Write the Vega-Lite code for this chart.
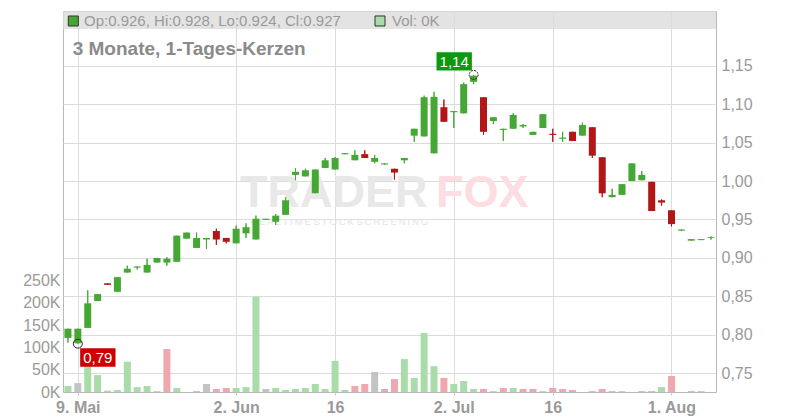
{
  "$schema": "https://vega.github.io/schema/vega-lite/v6.json",
  "width": 653,
  "height": 381,
  "autosize": {"type": "none"},
  "padding": {"left": 63, "right": 84, "top": 11, "bottom": 28},
  "background": "white",
  "config": {
    "view": {"stroke": "#b8b8b8"},
    "font": "Liberation Sans",
    "axis": {"labelFont": "Liberation Sans", "labelColor": "#9a9a9a", "labelFontSize": 16, "domain": false, "gridColor": "#dcdcdc", "tickColor": "#c8c8c8"}
  },
  "data": {"values": [
    {"i":0,"d":"2025-05-08","o":0.796,"h":0.808,"l":0.79,"c":0.808,"v":13500,"vd":"up"},
    {"i":1,"d":"2025-05-09","o":0.789,"h":0.808,"l":0.7885,"c":0.808,"v":20000,"vd":"flat"},
    {"i":2,"d":"2025-05-12","o":0.809,"h":0.858,"l":0.809,"c":0.841,"v":75000,"vd":"up"},
    {"i":3,"d":"2025-05-13","o":0.844,"h":0.853,"l":0.844,"c":0.853,"v":38000,"vd":"up"},
    {"i":4,"d":"2025-05-14","o":0.867,"h":0.867,"l":0.865,"c":0.865,"v":3000,"vd":"up"},
    {"i":5,"d":"2025-05-15","o":0.856,"h":0.875,"l":0.856,"c":0.875,"v":4500,"vd":"up"},
    {"i":6,"d":"2025-05-16","o":0.881,"h":0.89,"l":0.881,"c":0.886,"v":68000,"vd":"up"},
    {"i":7,"d":"2025-05-19","o":0.8875,"h":0.889,"l":0.885,"c":0.889,"v":11000,"vd":"up"},
    {"i":8,"d":"2025-05-20","o":0.881,"h":0.899,"l":0.881,"c":0.891,"v":13500,"vd":"up"},
    {"i":9,"d":"2025-05-21","o":0.894,"h":0.9,"l":0.894,"c":0.9,"v":2000,"vd":"up"},
    {"i":10,"d":"2025-05-22","o":0.894,"h":0.901,"l":0.89,"c":0.899,"v":96600,"vd":"down"},
    {"i":11,"d":"2025-05-23","o":0.895,"h":0.929,"l":0.895,"c":0.929,"v":9000,"vd":"up"},
    {"i":12,"d":"2025-05-26","o":0.925,"h":0.933,"l":0.925,"c":0.933,"v":0,"vd":"up"},
    {"i":13,"d":"2025-05-27","o":0.913,"h":0.933,"l":0.913,"c":0.926,"v":2000,"vd":"down"},
    {"i":14,"d":"2025-05-28","o":0.924,"h":0.926,"l":0.912,"c":0.926,"v":18000,"vd":"flat"},
    {"i":15,"d":"2025-05-29","o":0.935,"h":0.938,"l":0.917,"c":0.924,"v":6700,"vd":"down"},
    {"i":16,"d":"2025-05-30","o":0.926,"h":0.926,"l":0.919,"c":0.921,"v":9000,"vd":"down"},
    {"i":17,"d":"2025-06-02","o":0.919,"h":0.942,"l":0.919,"c":0.938,"v":9000,"vd":"up"},
    {"i":18,"d":"2025-06-03","o":0.932,"h":0.945,"l":0.926,"c":0.94,"v":11000,"vd":"up"},
    {"i":19,"d":"2025-06-04","o":0.924,"h":0.955,"l":0.924,"c":0.951,"v":214000,"vd":"up"},
    {"i":20,"d":"2025-06-05","o":0.9495,"h":0.951,"l":0.9495,"c":0.951,"v":6700,"vd":"flat"},
    {"i":21,"d":"2025-06-06","o":0.947,"h":0.957,"l":0.943,"c":0.955,"v":9000,"vd":"up"},
    {"i":22,"d":"2025-06-09","o":0.956,"h":0.979,"l":0.956,"c":0.975,"v":4500,"vd":"up"},
    {"i":23,"d":"2025-06-10","o":1.008,"h":1.017,"l":1.001,"c":1.012,"v":6700,"vd":"up"},
    {"i":24,"d":"2025-06-11","o":1.006,"h":1.016,"l":1.006,"c":1.014,"v":9000,"vd":"up"},
    {"i":25,"d":"2025-06-12","o":0.984,"h":1.015,"l":0.984,"c":1.015,"v":18000,"vd":"up"},
    {"i":26,"d":"2025-06-13","o":1.017,"h":1.03,"l":1.017,"c":1.027,"v":6700,"vd":"up"},
    {"i":27,"d":"2025-06-16","o":1.015,"h":1.031,"l":1.015,"c":1.03,"v":70000,"vd":"up"},
    {"i":28,"d":"2025-06-17","o":1.0348,"h":1.0363,"l":1.0348,"c":1.0363,"v":4500,"vd":"up"},
    {"i":29,"d":"2025-06-18","o":1.027,"h":1.04,"l":1.027,"c":1.034,"v":13500,"vd":"down"},
    {"i":30,"d":"2025-06-19","o":1.035,"h":1.04,"l":1.03,"c":1.03,"v":18000,"vd":"down"},
    {"i":31,"d":"2025-06-20","o":1.025,"h":1.034,"l":1.023,"c":1.03,"v":45000,"vd":"flat"},
    {"i":32,"d":"2025-06-23","o":1.0215,"h":1.023,"l":1.0215,"c":1.023,"v":6700,"vd":"down"},
    {"i":33,"d":"2025-06-24","o":1.016,"h":1.016,"l":1.002,"c":1.011,"v":29000,"vd":"down"},
    {"i":34,"d":"2025-06-25","o":1.027,"h":1.03,"l":1.023,"c":1.03,"v":74000,"vd":"up"},
    {"i":35,"d":"2025-06-26","o":1.059,"h":1.068,"l":1.051,"c":1.068,"v":31500,"vd":"up"},
    {"i":36,"d":"2025-06-27","o":1.058,"h":1.111,"l":1.058,"c":1.109,"v":132500,"vd":"up"},
    {"i":37,"d":"2025-06-30","o":1.036,"h":1.116,"l":1.036,"c":1.1095,"v":58000,"vd":"up"},
    {"i":38,"d":"2025-07-01","o":1.096,"h":1.106,"l":1.077,"c":1.077,"v":31500,"vd":"down"},
    {"i":39,"d":"2025-07-02","o":1.0895,"h":1.091,"l":1.069,"c":1.091,"v":18000,"vd":"up"},
    {"i":40,"d":"2025-07-03","o":1.088,"h":1.128,"l":1.088,"c":1.126,"v":24700,"vd":"up"},
    {"i":41,"d":"2025-07-04","o":1.129,"h":1.138,"l":1.126,"c":1.137,"v":6700,"vd":"up"},
    {"i":42,"d":"2025-07-07","o":1.109,"h":1.109,"l":1.06,"c":1.064,"v":6700,"vd":"down"},
    {"i":43,"d":"2025-07-08","o":1.078,"h":1.083,"l":1.074,"c":1.083,"v":2000,"vd":"up"},
    {"i":44,"d":"2025-07-09","o":1.0665,"h":1.068,"l":1.052,"c":1.068,"v":9000,"vd":"down"},
    {"i":45,"d":"2025-07-10","o":1.068,"h":1.088,"l":1.068,"c":1.086,"v":9000,"vd":"up"},
    {"i":46,"d":"2025-07-11","o":1.071,"h":1.074,"l":1.069,"c":1.073,"v":6700,"vd":"down"},
    {"i":47,"d":"2025-07-14","o":1.06,"h":1.064,"l":1.06,"c":1.064,"v":6700,"vd":"down"},
    {"i":48,"d":"2025-07-15","o":1.069,"h":1.087,"l":1.069,"c":1.087,"v":2000,"vd":"up"},
    {"i":49,"d":"2025-07-16","o":1.0615,"h":1.068,"l":1.051,"c":1.06,"v":9000,"vd":"down"},
    {"i":50,"d":"2025-07-17","o":1.055,"h":1.064,"l":1.051,"c":1.0565,"v":6700,"vd":"down"},
    {"i":51,"d":"2025-07-18","o":1.064,"h":1.064,"l":1.052,"c":1.052,"v":4500,"vd":"down"},
    {"i":52,"d":"2025-07-21","o":1.059,"h":1.076,"l":1.059,"c":1.073,"v":0,"vd":"up"},
    {"i":53,"d":"2025-07-22","o":1.07,"h":1.07,"l":1.03,"c":1.033,"v":2000,"vd":"down"},
    {"i":54,"d":"2025-07-23","o":1.031,"h":1.031,"l":0.979,"c":0.984,"v":6700,"vd":"down"},
    {"i":55,"d":"2025-07-24","o":0.979,"h":0.99,"l":0.979,"c":0.982,"v":2000,"vd":"down"},
    {"i":56,"d":"2025-07-25","o":0.982,"h":0.996,"l":0.982,"c":0.996,"v":2000,"vd":"up"},
    {"i":57,"d":"2025-07-28","o":1.0,"h":1.023,"l":1.0,"c":1.023,"v":0,"vd":"up"},
    {"i":58,"d":"2025-07-29","o":1.001,"h":1.013,"l":1.001,"c":1.008,"v":2000,"vd":"down"},
    {"i":59,"d":"2025-07-30","o":0.999,"h":0.999,"l":0.961,"c":0.961,"v":2000,"vd":"down"},
    {"i":60,"d":"2025-07-31","o":0.975,"h":0.976,"l":0.968,"c":0.972,"v":11000,"vd":"up"},
    {"i":61,"d":"2025-08-01","o":0.962,"h":0.962,"l":0.941,"c":0.944,"v":36000,"vd":"down"},
    {"i":62,"d":"2025-08-04","o":0.9355,"h":0.937,"l":0.9355,"c":0.937,"v":0,"vd":"down"},
    {"i":63,"d":"2025-08-05","o":0.9225,"h":0.9245,"l":0.9225,"c":0.9245,"v":2000,"vd":"down"},
    {"i":64,"d":"2025-08-06","o":0.9232,"h":0.9245,"l":0.9232,"c":0.9245,"v":2000,"vd":"flat"},
    {"i":65,"d":"2025-08-07","o":0.926,"h":0.928,"l":0.924,"c":0.927,"v":0,"vd":"up"}
  ]},
  "layer": [
    {
      "mark": {"type": "bar", "size": 7, "orient": "vertical"},
      "encoding": {
        "x": {"field": "i", "type": "quantitative",
          "scale": {"domain": [-0.5, 65.5], "nice": false, "zero": false, "padding": 0},
          "axis": {"values": [1, 17, 27, 39, 49, 61], "title": null, "grid": true, "tickSize": 3, "labelPadding": 4, "labelFontWeight": "bold", "labelOverlap": false, "labelFlush": false,
            "labelExpr": "datum.value==1?'9. Mai':datum.value==17?'2. Jun':datum.value==27?'16':datum.value==39?'2. Jul':datum.value==49?'16':datum.value==61?'1. Aug':''"}},
        "y": {"field": "v", "type": "quantitative",
          "scale": {"domain": [0, 856000], "nice": false, "zero": true, "padding": 0},
          "axis": {"orient": "left", "values": [0, 50000, 100000, 150000, 200000, 250000], "title": null, "grid": false, "ticks": false, "labelPadding": 3, "labelExpr": "(datum.value/1000) + 'K'"}},
        "color": {"field": "vd", "type": "nominal", "scale": {"domain": ["up", "down", "flat"], "range": ["#aadcaa", "#f0a8b0", "#c3c3c3"]}, "legend": null}
      }
    },
    {
      "layer": [
        {
          "mark": {"type": "rule", "strokeWidth": 1},
          "encoding": {
            "x": {"field": "i", "type": "quantitative", "scale": {"domain": [-0.5, 65.5], "nice": false, "zero": false, "padding": 0},
              "axis": {"values": [1, 17, 27, 39, 49, 61], "title": null, "grid": true, "tickSize": 3, "labelPadding": 4, "labelFontWeight": "bold", "labelOverlap": false, "labelFlush": false,
                "labelExpr": "datum.value==1?'9. Mai':datum.value==17?'2. Jun':datum.value==27?'16':datum.value==39?'2. Jul':datum.value==49?'16':datum.value==61?'1. Aug':''"}},
            "y": {"field": "l", "type": "quantitative",
              "scale": {"domain": [0.7257, 1.2211], "nice": false, "zero": false, "padding": 0},
              "axis": {"orient": "right", "values": [0.75, 0.8, 0.85, 0.9, 0.95, 1.0, 1.05, 1.1, 1.15], "title": null, "grid": true, "ticks": false, "labelPadding": 5,
                "labelExpr": "replace(format(datum.value, '.2f'), '.', ',')"}},
            "y2": {"field": "h"},
            "color": {"condition": {"test": "datum.c >= datum.o", "value": "#46a834"}, "value": "#b31616"}
          }
        },
        {
          "transform": [{"filter": "datum.i == 0"}],
          "mark": {"type": "rect", "fill": "#dcdcdc", "opacity": 0.8},
          "encoding": {
            "x": {"datum": -0.5, "type": "quantitative", "scale": {"domain": [-0.5, 65.5], "nice": false, "zero": false, "padding": 0}},
            "x2": {"datum": 65.5},
            "y": {"datum": 1.2211, "type": "quantitative", "scale": {"domain": [0.7257, 1.2211], "nice": false, "zero": false, "padding": 0}},
            "y2": {"datum": 1.1977}
          }
        },
        {
          "transform": [{"filter": "datum.i == 0"}],
          "mark": {"type": "text", "text": "TRADER", "fontSize": 45, "fontWeight": "bold", "fill": "#e8e8e8", "align": "left", "baseline": "alphabetic"},
          "encoding": {
            "x": {"datum": 17.39, "type": "quantitative", "scale": {"domain": [-0.5, 65.5], "nice": false, "zero": false, "padding": 0}},
            "y": {"datum": 0.9667, "type": "quantitative", "scale": {"domain": [0.7257, 1.2211], "nice": false, "zero": false, "padding": 0}}
          }
        },
        {
          "transform": [{"filter": "datum.i == 0"}],
          "mark": {"type": "text", "text": "FOX", "fontSize": 45, "fontWeight": "bold", "fill": "#fcdde1", "align": "left", "baseline": "alphabetic"},
          "encoding": {
            "x": {"datum": 37.2, "type": "quantitative", "scale": {"domain": [-0.5, 65.5], "nice": false, "zero": false, "padding": 0}},
            "y": {"datum": 0.9667, "type": "quantitative", "scale": {"domain": [0.7257, 1.2211], "nice": false, "zero": false, "padding": 0}}
          }
        },
        {
          "transform": [{"filter": "datum.i == 0"}],
          "mark": {"type": "text", "text": "R\u2009E\u2009A\u2009L\u2009T\u2009I\u2009M\u2009E  S\u2009T\u2009O\u2009C\u2009K  S\u2009C\u2009R\u2009E\u2009E\u2009N\u2009I\u2009N\u2009G", "fontSize": 9.5, "fill": "#e3e3e3", "align": "left", "baseline": "alphabetic"},
          "encoding": {
            "x": {"datum": 18.4, "type": "quantitative", "scale": {"domain": [-0.5, 65.5], "nice": false, "zero": false, "padding": 0}},
            "y": {"datum": 0.9425, "type": "quantitative", "scale": {"domain": [0.7257, 1.2211], "nice": false, "zero": false, "padding": 0}}
          }
        },
        {
          "mark": {"type": "rule", "strokeWidth": 1},
          "encoding": {
            "x": {"field": "i", "type": "quantitative", "scale": {"domain": [-0.5, 65.5], "nice": false, "zero": false, "padding": 0}},
            "y": {"field": "l", "type": "quantitative", "scale": {"domain": [0.7257, 1.2211], "nice": false, "zero": false, "padding": 0}},
            "y2": {"field": "h"},
            "color": {"condition": {"test": "datum.c >= datum.o", "value": "#46a834"}, "value": "#b31616"}
          }
        },
        {
          "mark": {"type": "bar", "size": 7, "orient": "vertical"},
          "encoding": {
            "x": {"field": "i", "type": "quantitative", "scale": {"domain": [-0.5, 65.5], "nice": false, "zero": false, "padding": 0}},
            "y": {"field": "o", "type": "quantitative", "scale": {"domain": [0.7257, 1.2211], "nice": false, "zero": false, "padding": 0}},
            "y2": {"field": "c"},
            "color": {"condition": {"test": "datum.c >= datum.o", "value": "#46a834"}, "value": "#b31616"}
          }
        },
        {
          "transform": [{"filter": "datum.i == 1"}],
          "mark": {"type": "point", "shape": "M-1,-0.52H1V0.52H-1Z", "size": 1250, "filled": true, "color": "#cc0000", "opacity": 1, "xOffset": 20, "yOffset": 13.8},
          "encoding": {
            "x": {"field": "i", "type": "quantitative", "scale": {"domain": [-0.5, 65.5], "nice": false, "zero": false, "padding": 0}},
            "y": {"field": "l", "type": "quantitative", "scale": {"domain": [0.7257, 1.2211], "nice": false, "zero": false, "padding": 0}}
          }
        },
        {
          "transform": [{"filter": "datum.i == 1"}],
          "mark": {"type": "text", "text": "0,79", "fontSize": 15, "fill": "white", "align": "center", "baseline": "middle", "xOffset": 20, "yOffset": 14.5},
          "encoding": {
            "x": {"field": "i", "type": "quantitative", "scale": {"domain": [-0.5, 65.5], "nice": false, "zero": false, "padding": 0}},
            "y": {"field": "l", "type": "quantitative", "scale": {"domain": [0.7257, 1.2211], "nice": false, "zero": false, "padding": 0}}
          }
        },
        {
          "transform": [{"filter": "datum.i == 41"}],
          "mark": {"type": "point", "shape": "M-1,-0.52H1V0.52H-1Z", "size": 1250, "filled": true, "color": "#0d990d", "opacity": 1, "xOffset": -19.4, "yOffset": -13.5},
          "encoding": {
            "x": {"field": "i", "type": "quantitative", "scale": {"domain": [-0.5, 65.5], "nice": false, "zero": false, "padding": 0}},
            "y": {"field": "h", "type": "quantitative", "scale": {"domain": [0.7257, 1.2211], "nice": false, "zero": false, "padding": 0}}
          }
        },
        {
          "transform": [{"filter": "datum.i == 41"}],
          "mark": {"type": "text", "text": "1,14", "fontSize": 15, "fill": "white", "align": "center", "baseline": "middle", "xOffset": -19.4, "yOffset": -12.8},
          "encoding": {
            "x": {"field": "i", "type": "quantitative", "scale": {"domain": [-0.5, 65.5], "nice": false, "zero": false, "padding": 0}},
            "y": {"field": "h", "type": "quantitative", "scale": {"domain": [0.7257, 1.2211], "nice": false, "zero": false, "padding": 0}}
          }
        },
        {
          "transform": [{"filter": "datum.i == 1"}],
          "mark": {"type": "point", "shape": "circle", "size": 80, "filled": false, "stroke": "#222222", "strokeWidth": 1, "opacity": 1},
          "encoding": {
            "x": {"field": "i", "type": "quantitative", "scale": {"domain": [-0.5, 65.5], "nice": false, "zero": false, "padding": 0}},
            "y": {"field": "l", "type": "quantitative", "scale": {"domain": [0.7257, 1.2211], "nice": false, "zero": false, "padding": 0}}
          }
        },
        {
          "transform": [{"filter": "datum.i == 41"}],
          "mark": {"type": "point", "shape": "circle", "size": 80, "filled": false, "stroke": "#222222", "strokeWidth": 1, "strokeDash": [2, 1], "opacity": 1},
          "encoding": {
            "x": {"field": "i", "type": "quantitative", "scale": {"domain": [-0.5, 65.5], "nice": false, "zero": false, "padding": 0}},
            "y": {"field": "h", "type": "quantitative", "scale": {"domain": [0.7257, 1.2211], "nice": false, "zero": false, "padding": 0}}
          }
        },
        {
          "transform": [{"filter": "datum.i == 0"}],
          "mark": {"type": "point", "shape": "square", "size": 100, "filled": true, "fill": "#46a834", "stroke": "#333333", "strokeWidth": 1, "opacity": 1},
          "encoding": {
            "x": {"datum": 0.541, "type": "quantitative", "scale": {"domain": [-0.5, 65.5], "nice": false, "zero": false, "padding": 0}},
            "y": {"datum": 1.2081, "type": "quantitative", "scale": {"domain": [0.7257, 1.2211], "nice": false, "zero": false, "padding": 0}}
          }
        },
        {
          "transform": [{"filter": "datum.i == 0"}],
          "mark": {"type": "point", "shape": "square", "size": 100, "filled": true, "fill": "#aadcaa", "stroke": "#333333", "strokeWidth": 1, "opacity": 1},
          "encoding": {
            "x": {"datum": 31.54, "type": "quantitative", "scale": {"domain": [-0.5, 65.5], "nice": false, "zero": false, "padding": 0}},
            "y": {"datum": 1.2081, "type": "quantitative", "scale": {"domain": [0.7257, 1.2211], "nice": false, "zero": false, "padding": 0}}
          }
        },
        {
          "transform": [{"filter": "datum.i == 0"}],
          "mark": {"type": "text", "text": "Op:0.926, Hi:0.928, Lo:0.924, Cl:0.927", "fontSize": 15, "fill": "#9a9a9a", "align": "left", "baseline": "alphabetic"},
          "encoding": {
            "x": {"datum": 1.622, "type": "quantitative", "scale": {"domain": [-0.5, 65.5], "nice": false, "zero": false, "padding": 0}},
            "y": {"datum": 1.2012, "type": "quantitative", "scale": {"domain": [0.7257, 1.2211], "nice": false, "zero": false, "padding": 0}}
          }
        },
        {
          "transform": [{"filter": "datum.i == 0"}],
          "mark": {"type": "text", "text": "Vol: 0K", "fontSize": 15, "fill": "#9a9a9a", "align": "left", "baseline": "alphabetic"},
          "encoding": {
            "x": {"datum": 32.75, "type": "quantitative", "scale": {"domain": [-0.5, 65.5], "nice": false, "zero": false, "padding": 0}},
            "y": {"datum": 1.2012, "type": "quantitative", "scale": {"domain": [0.7257, 1.2211], "nice": false, "zero": false, "padding": 0}}
          }
        },
        {
          "transform": [{"filter": "datum.i == 0"}],
          "mark": {"type": "text", "text": "3 Monate, 1-Tages-Kerzen", "fontSize": 19, "fontWeight": "bold", "fill": "#8a8a8a", "align": "left", "baseline": "alphabetic"},
          "encoding": {
            "x": {"datum": 0.48, "type": "quantitative", "scale": {"domain": [-0.5, 65.5], "nice": false, "zero": false, "padding": 0}},
            "y": {"datum": 1.1639, "type": "quantitative", "scale": {"domain": [0.7257, 1.2211], "nice": false, "zero": false, "padding": 0}}
          }
        }
      ]
    }
  ],
  "resolve": {"scale": {"y": "independent"}}
}
